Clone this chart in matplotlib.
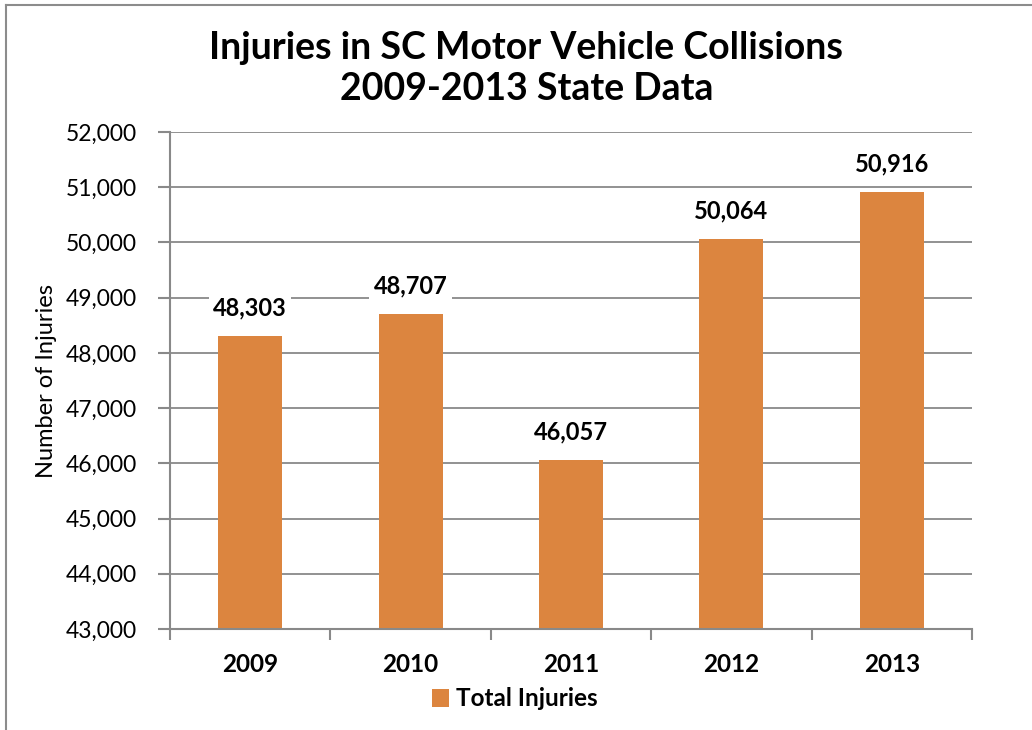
import matplotlib.pyplot as plt
from matplotlib.lines import Line2D

years = ['2009', '2010', '2011', '2012', '2013']
injuries = [48303, 48707, 46057, 50064, 50916]
yticks = [43000, 44000, 45000, 46000, 47000, 48000, 49000, 50000, 51000, 52000]

plt.rcParams['font.family'] = ['Lato', 'DejaVu Sans']

fig = plt.figure(figsize=(10.32, 7.30), dpi=100)
ax = fig.add_axes([170/1032, 1 - 629/730, 802/1032, 497/730])

x = range(len(years))
ax.bar(x, injuries, width=0.4, color='#DC853F', label='Total Injuries', zorder=2)
ax.set_xlim(-0.5, 4.5)
ax.set_ylim(43000, 52000)
ax.set_yticks(yticks)
ax.set_yticklabels(['{:,}'.format(v) for v in yticks], fontsize=16.5)
ax.set_xticks(list(x))
ax.set_xticklabels(years, fontsize=17.5, fontweight='bold')
ax.tick_params(axis='x', length=0, pad=17)
ax.tick_params(axis='y', length=9, color='#898989', width=1.5, pad=15)
ax.set_xticks([i + 0.5 for i in range(-1, 5)], minor=True)
ax.tick_params(axis='x', which='minor', length=8, color='#898989', width=1.5)
ax.grid(axis='y', color='#898989', lw=1.3, zorder=1)
for s in ['top', 'right']:
    ax.spines[s].set_visible(False)
for s in ['left', 'bottom']:
    ax.spines[s].set_color('#898989')
    ax.spines[s].set_linewidth(1.5)
ax.set_ylabel('Number of Injuries', fontsize=17, labelpad=6)

for i, v in enumerate(injuries):
    ax.annotate('{:,}'.format(v), (i, v), xytext=(0, 12), textcoords='offset points',
                ha='center', va='bottom', fontsize=17, fontweight='bold',
                bbox=dict(facecolor='white', edgecolor='none', pad=3), zorder=3)

fig.suptitle('Injuries in SC Motor Vehicle Collisions\n2009-2013 State Data',
             x=0.51, y=0.958, fontsize=27, fontweight='bold', linespacing=1.25)

leg = fig.legend(*ax.get_legend_handles_labels(), loc='center',
                 bbox_to_anchor=(515/1032, 1 - 699/730), frameon=False,
                 prop={'size': 17.5, 'weight': 'bold'}, handlelength=0.7, handleheight=0.7,
                 handletextpad=0.3)

fig.add_artist(Line2D([6/1032, 6/1032], [0, 1 - 5/730], color='#8c8c8c', lw=1.5))
fig.add_artist(Line2D([6/1032, 1], [1 - 5/730, 1 - 5/730], color='#8c8c8c', lw=1.5))

fig.savefig('out.png', dpi=100)
